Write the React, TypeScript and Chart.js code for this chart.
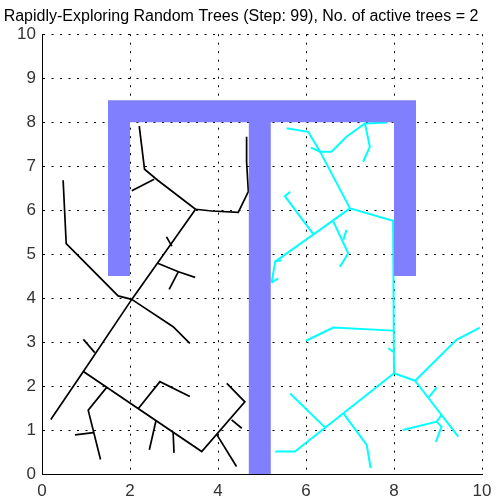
import React, { useEffect, useRef } from "react";
import { Chart, registerables } from "chart.js";

Chart.register(...registerables);

const TITLE = "Rapidly-Exploring Random Trees (Step: 99), No. of active trees = 2";
const X_TICKS = [0, 2, 4, 6, 8, 10];
const Y_TICKS = [0, 1, 2, 3, 4, 5, 6, 7, 8, 9, 10];

// Obstacle outline (U-shaped bar + central stem), as a closed polygon
const OBSTACLE: [number, number][] = [
  [1.5, 4.5], [1.5, 8.5], [8.5, 8.5], [8.5, 4.5], [8.0, 4.5], [8.0, 8.0],
  [5.2, 8.0], [5.2, 0.0], [4.7, 0.0], [4.7, 8.0], [2.0, 8.0], [2.0, 4.5], [1.5, 4.5],
];

// Black tree branches
const TREE_BLACK: [number, number][][] = [
  [[2.21, 7.91], [2.33, 6.93], [2.63, 6.68], [3.49, 6.02]],
  [[2.55, 6.70], [2.04, 6.44]],
  [[3.49, 6.02], [3.86, 5.98], [4.46, 5.95], [4.69, 6.42], [4.65, 7.10], [4.65, 7.67]],
  [[3.49, 6.02], [2.04, 3.97], [0.94, 2.33], [0.20, 1.24]],
  [[2.83, 5.39], [2.95, 5.18]],
  [[2.63, 4.79], [3.10, 4.60], [3.48, 4.47]],
  [[3.10, 4.60], [2.89, 4.20]],
  [[0.48, 6.68], [0.55, 5.24], [1.73, 4.05], [2.04, 3.97]],
  [[2.04, 3.97], [2.98, 3.35], [3.36, 2.97]],
  [[1.20, 2.76], [0.94, 3.06]],
  [[0.94, 2.33], [3.63, 0.51], [4.61, 1.64], [4.20, 2.06]],
  [[4.31, 1.23], [4.54, 1.04]],
  [[3.97, 0.90], [4.42, 0.17]],
  [[2.19, 1.49], [2.68, 2.10], [3.36, 1.76]],
  [[2.59, 1.21], [2.44, 0.55]],
  [[2.98, 0.95], [3.00, 0.48]],
  [[1.47, 1.97], [1.05, 1.45], [1.33, 0.33]],
  [[0.75, 0.89], [1.17, 0.94]],
];

// Cyan tree branches
const TREE_CYAN: [number, number][][] = [
  [[5.56, 7.86], [6.05, 7.78], [6.32, 7.33], [7.00, 6.04]],
  [[6.11, 7.42], [6.32, 7.33], [6.58, 7.33], [6.92, 7.67], [7.34, 7.97], [7.85, 7.99]],
  [[7.34, 7.97], [7.45, 7.44], [7.30, 7.10]],
  [[7.00, 6.04], [7.98, 5.76], [8.00, 2.29]],
  [[7.00, 6.04], [5.30, 4.83], [5.22, 4.35]],
  [[5.37, 4.45], [5.22, 4.35]],
  [[5.30, 4.83], [5.45, 4.86]],
  [[6.17, 5.45], [5.52, 6.32], [5.64, 6.42]],
  [[6.61, 5.76], [6.96, 5.02], [6.77, 4.71]],
  [[6.85, 5.33], [6.92, 5.55]],
  [[6.00, 3.03], [6.62, 3.33], [7.98, 3.26]],
  [[7.87, 2.86], [7.98, 2.78]],
  [[8.00, 2.29], [5.75, 0.51], [5.30, 0.51]],
  [[6.43, 1.06], [5.64, 1.83]],
  [[6.85, 1.38], [7.38, 0.66], [7.47, 0.13]],
  [[8.00, 2.29], [8.48, 2.12], [9.42, 3.05], [9.95, 3.33]],
  [[8.48, 2.12], [9.46, 0.85]],
  [[8.78, 1.73], [8.97, 1.97]],
  [[9.08, 1.34], [8.97, 1.19], [8.20, 1.00]],
  [[8.97, 1.19], [9.08, 1.07], [8.95, 0.73]],
];

const FONT = "'Liberation Sans', Arial, sans-serif";

export default function App() {
  const ref = useRef<HTMLCanvasElement | null>(null);

  useEffect(() => {
    if (!ref.current) return;
    const toPts = (arr: [number, number][]) => arr.map(([x, y]) => ({ x, y }));
    const datasets: any[] = [
      {
        data: toPts(OBSTACLE),
        showLine: true,
        fill: "shape",
        backgroundColor: "#8080FF",
        borderColor: "#8080FF",
        borderWidth: 0,
        pointRadius: 0,
        tension: 0,
      },
      ...TREE_BLACK.map((seg) => ({
        data: toPts(seg),
        showLine: true,
        fill: false,
        borderColor: "#000000",
        borderWidth: 1.7,
        pointRadius: 0,
        tension: 0,
      })),
      ...TREE_CYAN.map((seg) => ({
        data: toPts(seg),
        showLine: true,
        fill: false,
        borderColor: "#00FFFF",
        borderWidth: 2,
        pointRadius: 0,
        tension: 0,
      })),
    ];

    const chart = new Chart(ref.current, {
      type: "scatter",
      data: { datasets },
      options: {
        responsive: false,
        animation: false,
        devicePixelRatio: 1,
        layout: { padding: { left: 0, right: 22, top: 0, bottom: 0 } },
        plugins: {
          legend: { display: false },
          tooltip: { enabled: false },
          title: {
            display: true,
            text: TITLE,
            color: "#000",
            font: { family: FONT, size: 16, weight: "normal", lineHeight: 1.2 },
            padding: { top: 7, bottom: 8 },
          },
        },
        scales: {
          x: {
            type: "linear",
            min: 0,
            max: 10,
            z: 1,
            afterFit: (s: any) => { s.height = 25; },
            afterBuildTicks: (s: any) => { s.ticks = X_TICKS.map((v) => ({ value: v })); },
            ticks: { color: "#333", padding: 7, font: { family: FONT, size: 17 }, maxRotation: 0 },
            grid: { color: "#000", lineWidth: 1, drawTicks: false },
            border: { display: true, color: "#000", width: 1, dash: [2, 6.5] },
          },
          y: {
            type: "linear",
            min: 0,
            max: 10,
            z: 1,
            afterFit: (s: any) => { s.width = 42; },
            afterBuildTicks: (s: any) => { s.ticks = Y_TICKS.map((v) => ({ value: v })); },
            ticks: { color: "#333", padding: 6, font: { family: FONT, size: 17 } },
            grid: { color: "#000", lineWidth: 1, drawTicks: false },
            border: { display: true, color: "#000", width: 1, dash: [2, 6.5] },
          },
        },
      },
    });
    return () => chart.destroy();
  }, []);

  return (
    <div style={{ position: "fixed", left: 0, top: 0, width: 504, height: 499, background: "#fff" }}>
      <canvas ref={ref} width={504} height={499} style={{ width: 504, height: 499, display: "block" }} />
    </div>
  );
}
